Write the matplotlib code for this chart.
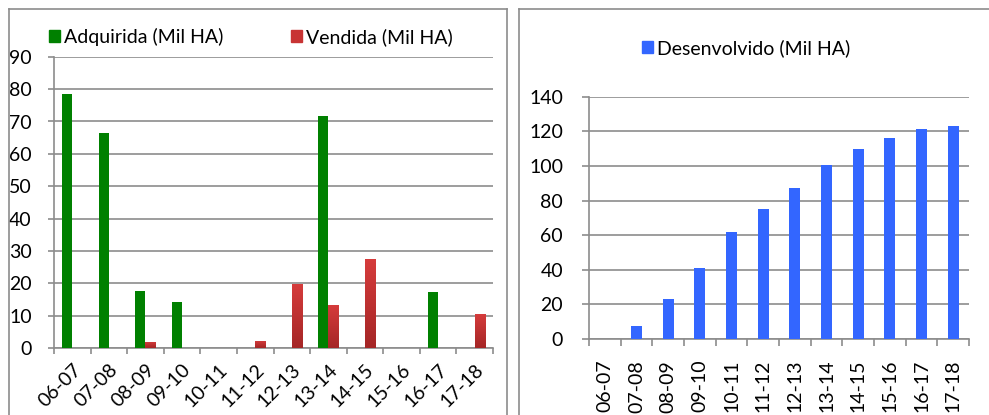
import matplotlib
matplotlib.use('Agg')
import matplotlib.pyplot as plt
import numpy as np
from matplotlib.lines import Line2D
from matplotlib.patches import Patch
from matplotlib.colors import LinearSegmentedColormap

categories = ['06-07', '07-08', '08-09', '09-10', '10-11', '11-12',
              '12-13', '13-14', '14-15', '15-16', '16-17', '17-18']
adquirida = [78.5, 66.5, 17.7, 14.2, 0, 0, 0, 71.7, 0, 0, 17.4, 0]
vendida = [0, 0, 1.9, 0, 0, 2.2, 19.8, 13.3, 27.6, 0, 0, 10.5]
desenvolvido = [0, 7.5, 22.9, 41.0, 61.6, 75.3, 87.2, 100.3, 109.6, 116.3, 121.5, 123.2]

labels_left = ['Adquirida (Mil HA)', 'Vendida (Mil HA)']
label_right = 'Desenvolvido (Mil HA)'

plt.rcParams['font.family'] = ['Lato', 'DejaVu Sans']
GRAY = '#8c8c8c'
GREEN = '#008000'
RED = '#c83434'
BLUE = '#3366ff'
FS = 14

fig = plt.figure(figsize=(9.89, 4.15), dpi=100)
W, H = 989, 415

def style_axes(ax, ymax, ystep, rot, pad_x, pad_y, ylen):
    ax.set_xlim(-0.5, len(categories) - 0.5)
    ax.set_ylim(0, ymax)
    ax.set_yticks(np.arange(0, ymax + 1, ystep))
    ax.yaxis.grid(True, color=GRAY, lw=1.2)
    ax.set_axisbelow(True)
    for s in ['top', 'right']:
        ax.spines[s].set_visible(False)
    for s in ['left', 'bottom']:
        ax.spines[s].set_color(GRAY)
        ax.spines[s].set_linewidth(1.2)
    x = np.arange(len(categories))
    ax.set_xticks(x)
    ax.set_xticks(np.arange(-0.5, len(categories), 1), minor=True)
    ax.tick_params(axis='x', which='major', length=0, pad=pad_x, labelsize=FS)
    ax.tick_params(axis='x', which='minor', length=ylen, width=1.2, color=GRAY)
    ax.tick_params(axis='y', length=ylen, width=1.2, color=GRAY, pad=pad_y, labelsize=FS)
    if rot == 45:
        ax.set_xticklabels(categories, rotation=45, ha='right', va='top',
                           rotation_mode='anchor')
    else:
        ax.set_xticklabels(categories, rotation=90, ha='center', va='top')

# Left chart
ax1 = fig.add_axes([54 / W, 1 - 348.3 / H, 439 / W, 291.6 / H])
x = np.arange(len(categories))
w = 0.28
ax1.bar(x - w / 2, adquirida, w, color=GREEN, zorder=3)
red_bars = ax1.bar(x + w / 2, vendida, w, color=RED, zorder=3)
cmap = LinearSegmentedColormap.from_list('redgrad', ['#a52626', '#d63c3c'])
grad = np.linspace(0, 1, 64).reshape(-1, 1)
for rect in red_bars:
    h = rect.get_height()
    if h <= 0:
        continue
    x0 = rect.get_x()
    im = ax1.imshow(grad, extent=[x0, x0 + rect.get_width(), 0, h], origin='lower',
                    aspect='auto', cmap=cmap, zorder=3.5)
    im.set_clip_path(rect)
style_axes(ax1, 90, 10, 45, 9, 11.5, 4.5)

ax1.legend(handles=[Patch(color=GREEN), Patch(color=RED)], labels=labels_left,
           loc='center left', bbox_to_anchor=(49 / W, 1 - 37 / H),
           bbox_transform=fig.transFigure, ncol=2, frameon=False, fontsize=FS,
           handlelength=0.55, handleheight=0.55, handletextpad=0.2,
           columnspacing=3.5, borderpad=0, borderaxespad=0)

# Right chart
ax2 = fig.add_axes([589 / W, 1 - 339 / H, 380 / W, 242.3 / H])
ax2.bar(x, desenvolvido, 0.35, color=BLUE, zorder=3)
style_axes(ax2, 140, 20, 90, 15, 13.7, 5)
ax2.legend(handles=[Patch(color=BLUE)], labels=[label_right],
           loc='center left', bbox_to_anchor=(642 / W, 1 - 48 / H),
           bbox_transform=fig.transFigure, frameon=False, fontsize=FS,
           handlelength=0.55, handleheight=0.55, handletextpad=0.2,
           borderpad=0, borderaxespad=0)

# Panel borders
def fline(xs, ys):
    fig.add_artist(Line2D([v / W for v in xs], [1 - v / H for v in ys],
                          transform=fig.transFigure, color=GRAY, lw=1.2))

fline([9, 9], [9, H])
fline([9, 507], [9, 9])
fline([507, 507], [9, H])
fline([519, 519], [9, H])
fline([519, W], [9, 9])

fig.savefig('out.png', dpi=100)
